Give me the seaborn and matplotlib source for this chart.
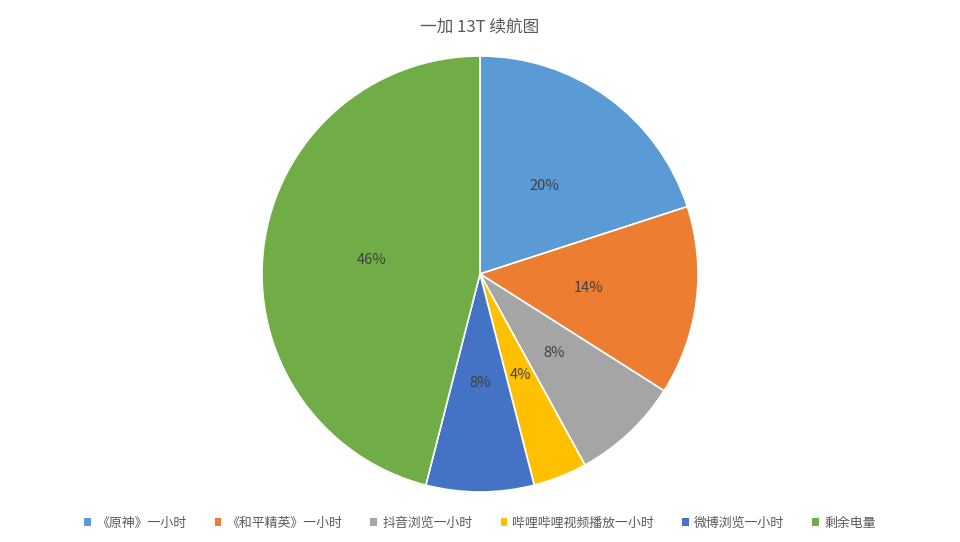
import seaborn as sns
import matplotlib.pyplot as plt
from matplotlib.patches import Patch

labels = ["《原神》一小时", "《和平精英》一小时", "抖音浏览一小时",
          "哔哩哔哩视频播放一小时", "微博浏览一小时", "剩余电量"]
values = [20, 14, 8, 4, 8, 46]
colors = ["#5B9BD5", "#ED7D31", "#A5A5A5", "#FFC000", "#4472C4", "#70AD47"]
title = "一加 13T 续航图"

sns.set_theme(style="white")
plt.rcParams["font.family"] = ["Noto Sans CJK SC", "DejaVu Sans"]
palette = sns.color_palette(colors)

fig = plt.figure(figsize=(9.6, 5.42), dpi=100)
# pie centre ~ (480, 274) px, radius ~218 px
ax = fig.add_axes([0.2729, 0.0923, 0.4542, 0.8044])
wedges, texts, autotexts = ax.pie(
    values,
    colors=palette,
    startangle=90,
    counterclock=False,
    autopct="%.0f%%",
    pctdistance=0.5,
    wedgeprops=dict(edgecolor="white", linewidth=1.2),
    textprops=dict(color="#404040", fontsize=10.5),
)
ax.set_xlim(-1, 1)
ax.set_ylim(-1, 1)
ax.set_aspect("equal")

fig.text(0.5, 0.950, title, ha="center", va="center", fontsize=12, color="#595959")

handles = [Patch(facecolor=c, edgecolor="none") for c in colors]
fig.legend(
    handles, labels,
    loc="center", bbox_to_anchor=(0.5, 0.035), ncol=6, frameon=False,
    fontsize=9.3, labelcolor="#595959",
    handlelength=0.5, handleheight=0.5, handletextpad=0.4, columnspacing=2.2,
)

fig.savefig("out.png", dpi=100, facecolor="white")
